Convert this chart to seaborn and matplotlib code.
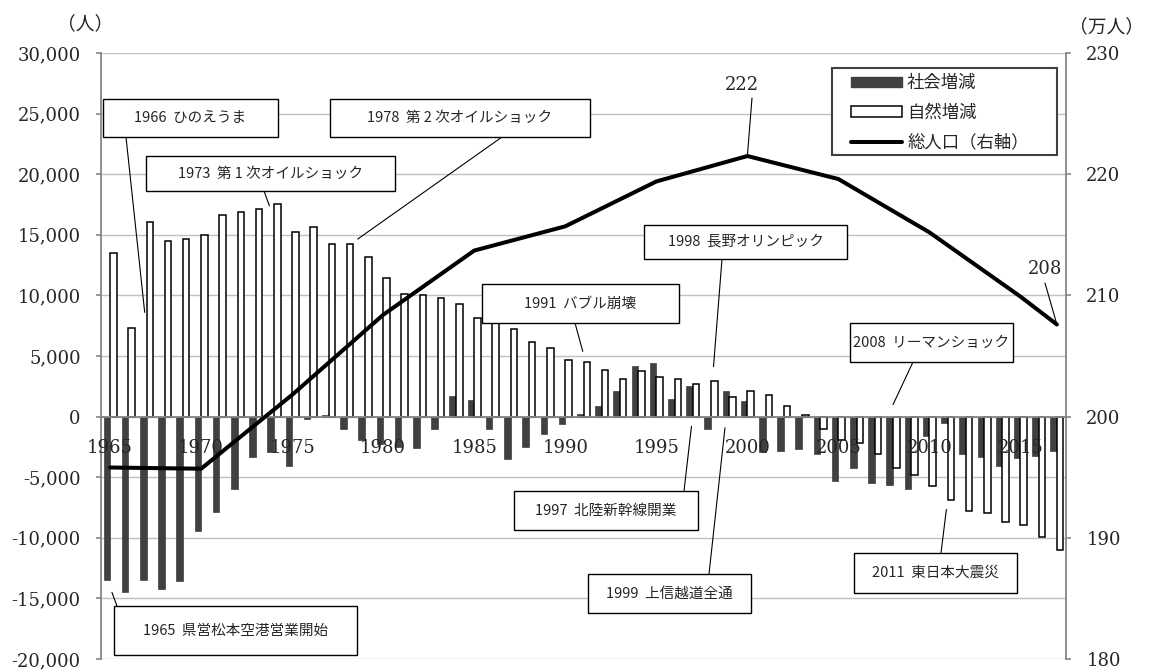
import matplotlib
matplotlib.use("Agg")
import matplotlib.pyplot as plt
import pandas as pd
import seaborn as sns
from matplotlib.patches import Rectangle, Patch, ConnectionPatch
from matplotlib.lines import Line2D
from matplotlib.ticker import FixedLocator, FuncFormatter

# ---- data -------------------------------------------------------------
years = list(range(1965, 2018))

# 社会増減 (persons per year)
social = [
    -13500, -14500, -13500, -14200, -13600, -9450, -7900, -6000, -3350, -2900,
    -4100, -200, 100, -1050, -1900, -2300, -2500, -2600, -1000, 1700,
    1350, -1000, -3500, -2500, -1400, -650, 250, 850, 2100, 4200,
    4400, 1450, 2500, -1000, 2150, 1250, -2900, -2850, -2650, -3100,
    -5350, -4200, -5500, -5650, -6000, -1600, -500, -3100, -3300, -4100,
    -3400, -3250, -2850,
]

# 自然増減 (persons per year)
natural = [
    13500, 7350, 16050, 14500, 14650, 14950, 16600, 16900, 17100, 17500,
    15250, 15650, 14250, 14250, 13200, 11450, 10150, 10000, 9750, 9250,
    8100, 8000, 7250, 6150, 5650, 4650, 4500, 3850, 3100, 3800,
    3250, 3100, 2700, 2900, 1650, 2150, 1800, 850, 100, -1000,
    -1900, -2200, -3050, -4250, -4800, -5750, -6850, -7750, -7950, -8700,
    -8950, -9900, -11000,
]

# 総人口 (10,000 persons)
pop_years = [1965, 1970, 1975, 1980, 1985, 1990, 1995, 2000, 2005, 2010, 2015, 2017]
pop = [195.8, 195.7, 201.8, 208.4, 213.7, 215.7, 219.4, 221.5, 219.6, 215.2, 209.9, 207.6]

series_names = ["社会増減", "自然増減"]
line_name = "総人口（右軸）"
left_ticks = list(range(-20000, 30001, 5000))
right_ticks = list(range(180, 231, 10))

# event call-outs: text, year, value the leader points to
events = [
    ("1966  ひのえうま", 1966, 8600),
    ("1978  第 2 次オイルショック", 1978, 14650),
    ("1973  第 1 次オイルショック", 1973, 17390),
    ("1991  バブル崩壊", 1991, 5380),
    ("1998  長野オリンピック", 1998, 4120),
    ("1997  北陸新幹線開業", 1997, -800),
    ("1999  上信越道全通", 1999, -930),
    ("2008  リーマンショック", 2008, 990),
    ("2011  東日本大震災", 2011, -7660),
    ("1965  県営松本空港営業開始", 1965, -14500),
]
# box (x0, y0, x1, y1), leader start (x, y), leader x-shift in categories
event_layout = [
    ((103, 99, 278, 137), (126, 137), 0.9),
    ((330, 99, 590, 137), (502, 137), 0.6),
    ((146, 156, 395, 191), (264, 191), 0.75),
    ((482, 284, 679, 323), (575, 323), -0.04),
    ((644, 225, 847, 259), (722, 259), 0.14),
    ((514, 491, 698, 530), (684, 491), -0.07),
    ((588, 574, 751, 613), (709, 574), -0.23),
    ((850, 323, 1013, 362), (913, 362), 0.0),
    ((854, 553, 1017, 593), (941, 553), -0.07),
    ((114, 606, 357, 655), (117, 606), 0.1),
]

# ---- figure -----------------------------------------------------------
sns.set_style("white")
plt.rcParams["font.family"] = ["Noto Sans CJK JP", "DejaVu Sans"]
SERIF = "DejaVu Serif"
DARK = "#404040"
AXIS = "#868686"
GRID = "#c0c0c0"

W, H = 1149, 672
fig = plt.figure(figsize=(W / 100, H / 100), dpi=100)


def fx(p):
    return p / W


def fy(p):
    return 1 - p / H


L, R, T, B = 101, 1066, 53, 659
ax = fig.add_axes([fx(L), fy(B), (R - L) / W, (B - T) / H])

df = pd.DataFrame({
    "year": years * 2,
    "kind": [series_names[0]] * len(years) + [series_names[1]] * len(years),
    "value": social + natural,
})
sns.barplot(data=df, x="year", y="value", hue="kind", hue_order=series_names,
            palette=[DARK, "white"], width=0.72, saturation=1, errorbar=None,
            legend=False, ax=ax, zorder=2)
for cont, ec, lw in zip(ax.containers, [DARK, "black"], [0.5, 1.1]):
    for p in cont:
        p.set_edgecolor(ec)
        p.set_linewidth(lw)

ax.set_xlabel("")
ax.set_ylabel("")
ax.set_ylim(left_ticks[0], left_ticks[-1])
ax.yaxis.set_major_locator(FixedLocator(left_ticks))
ax.yaxis.set_major_formatter(FuncFormatter(lambda v, _: f"{int(v):,}"))
ax.grid(False)
ax.set_axisbelow(False)
# horizontal gridlines kept behind the bars, axis labels stay on top
for v in left_ticks:
    ax.axhline(v, color=GRID, lw=1.0, zorder=0.5)

for s in ["top", "right"]:
    ax.spines[s].set_visible(False)
ax.spines["left"].set_color(AXIS)
ax.spines["left"].set_linewidth(1.3)
ax.spines["bottom"].set_position(("data", 0))
ax.spines["bottom"].set_color(AXIS)
ax.spines["bottom"].set_linewidth(1.3)

label_idx = [i for i, y in enumerate(years) if y % 5 == 0]
ax.set_xticks(label_idx, [str(years[i]) for i in label_idx])
ax.set_xticks([i - 0.5 for i in label_idx[1:]], minor=True)
ax.tick_params(axis="x", which="major", length=0, pad=16, labelsize=13)
ax.tick_params(axis="x", which="minor", direction="inout", length=9,
               width=1.2, color=AXIS)
ax.tick_params(axis="y", direction="out", length=3.6, width=1.2, color=AXIS,
               labelsize=13, pad=11)
for lbl in ax.get_xticklabels() + ax.get_yticklabels():
    lbl.set_fontfamily(SERIF)

# total population on the right axis
ax2 = ax.twinx()
pop_idx = [years.index(y) for y in pop_years]
sns.lineplot(x=pop_idx, y=pop, ax=ax2, color="black", lw=2.9, legend=False)
ax2.set_ylim(right_ticks[0], right_ticks[-1])
ax2.yaxis.set_major_locator(FixedLocator(right_ticks))
ax2.set_ylabel("")
for s in ["top", "left", "bottom"]:
    ax2.spines[s].set_visible(False)
ax2.spines["right"].set_color(AXIS)
ax2.spines["right"].set_linewidth(1.3)
ax2.tick_params(axis="y", direction="out", length=3.6, width=1.2, color=AXIS,
                labelsize=13, pad=11)
for lbl in ax2.get_yticklabels():
    lbl.set_fontfamily(SERIF)
ax2.grid(False)

ax.set_xlim(-0.5, len(years) - 0.5)
ax2.set_xlim(-0.5, len(years) - 0.5)

# unit captions
fig.text(fx(85), fy(24), "（人）", ha="center", va="center", fontsize=13.5)
fig.text(fx(1106), fy(27), "（万人）", ha="center", va="center", fontsize=13.5)

# legend
fig.add_artist(Rectangle((fx(832), fy(155)), fx(1057) - fx(832), fy(68) - fy(155),
                         transform=fig.transFigure, facecolor="white",
                         edgecolor=DARK, lw=1.5, zorder=4))
handles = [
    Patch(facecolor=DARK, edgecolor=DARK),
    Patch(facecolor="white", edgecolor="black", lw=1.1),
    Line2D([], [], color="black", lw=2.9),
]
leg = fig.legend(handles, series_names + [line_name], loc="upper left",
                 bbox_to_anchor=(fx(851), fy(74)), frameon=False, borderpad=0,
                 borderaxespad=0, handlelength=2.93, handleheight=0.55,
                 handletextpad=0.3, labelspacing=0.68, fontsize=12.5)
leg.set_zorder(5)

# event call-outs
for (text, year, val), (box, start, dx) in zip(events, event_layout):
    x0, y0, x1, y1 = box
    fig.add_artist(ConnectionPatch(
        xyA=(fx(start[0]), fy(start[1])), coordsA="figure fraction",
        xyB=(years.index(year) + dx, val), coordsB=ax.transData,
        color="black", lw=0.8, zorder=3))
    fig.add_artist(Rectangle((fx(x0), fy(y1)), fx(x1) - fx(x0), fy(y0) - fy(y1),
                             transform=fig.transFigure, facecolor="white",
                             edgecolor="black", lw=1.0, zorder=4))
    fig.text(fx((x0 + x1) / 2), fy((y0 + y1) / 2), text, ha="center",
             va="center", fontsize=10.5, zorder=5)

# peak and latest population values
peak_i = pop.index(max(pop))
for i, (tx, ty), (sx, sy) in [(peak_i, (742, 85), (752, 98)),
                              (len(pop) - 1, (1045, 269), (1045, 283))]:
    fig.text(fx(tx), fy(ty), f"{pop[i]:.0f}", ha="center", va="center",
             fontsize=13, fontfamily=SERIF)
    fig.add_artist(ConnectionPatch(
        xyA=(fx(sx), fy(sy)), coordsA="figure fraction",
        xyB=(pop_idx[i], pop[i]), coordsB=ax2.transData,
        color="black", lw=0.8, zorder=3))

fig.savefig("out.png", dpi=100)
